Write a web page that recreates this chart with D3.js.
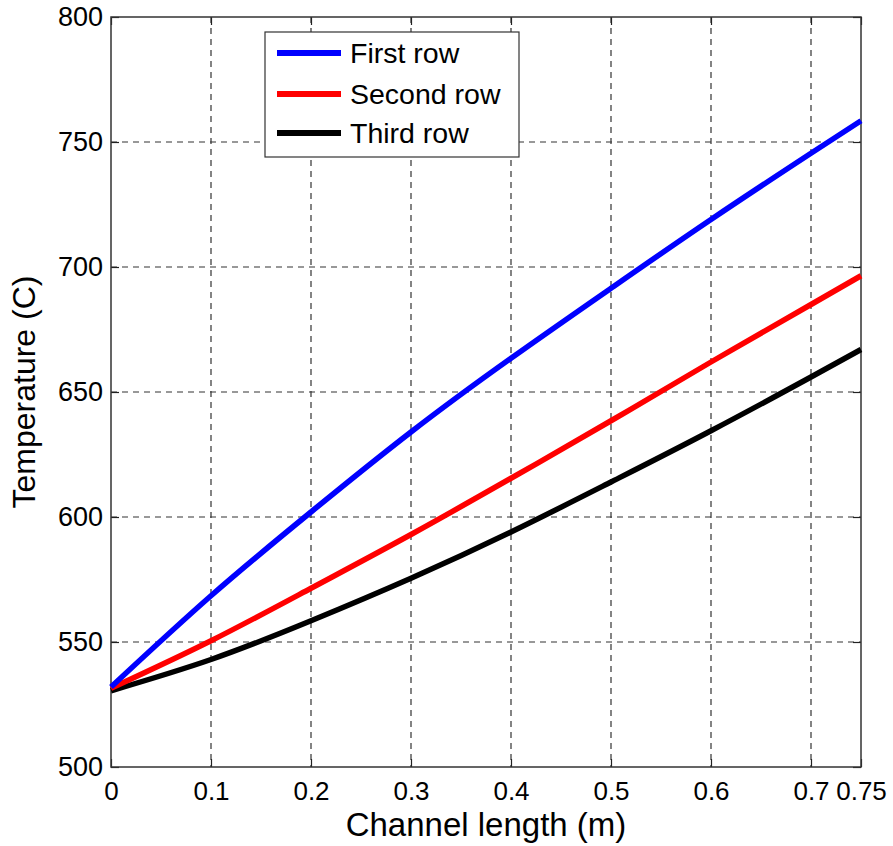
<!DOCTYPE html>
<html>
<head>
<meta charset="utf-8">
<script src="https://cdn.jsdelivr.net/npm/d3@7"></script>
<style>
  body { margin: 0; background: #fff; }
  svg { font-family: "Liberation Sans", Arial, sans-serif; }
</style>
</head>
<body>
<svg id="plotarea"></svg>
<script>
// Channel positions (m) where temperatures were read
var lengths = [0, 0.1, 0.2, 0.3, 0.4, 0.5, 0.6, 0.7, 0.75];

// Temperatures (C) for each row
var firstRow  = [532, 568.5, 602, 634, 663.5, 691.5, 719, 745.5, 758.5];
var secondRow = [531.5, 550.5, 571.5, 593, 615.5, 638.5, 662, 685, 696.5];
var thirdRow  = [530.5, 543, 558.5, 575.5, 594, 614, 634.5, 656, 667];

var seriesNames = ["First row", "Second row", "Third row"];
var seriesColors = ["#0000ff", "#ff0000", "#000000"];

var xTicks = [0, 0.1, 0.2, 0.3, 0.4, 0.5, 0.6, 0.7, 0.75];
var yTicks = [500, 550, 600, 650, 700, 750, 800];

var margin = {top: 17, right: 32, bottom: 79, left: 111};
var width = 893 - margin.left - margin.right;
var height = 846 - margin.top - margin.bottom;

var svg = d3.select("#plotarea")
    .attr("width", 893)
    .attr("height", 846);

var g = svg.append("g")
    .attr("transform", "translate(" + margin.left + "," + margin.top + ")");

var x = d3.scaleLinear().domain([0, 0.75]).range([0, width]);
var y = d3.scaleLinear().domain([500, 800]).range([height, 0]);

// dashed grid (inner lines only)
g.selectAll(".vgrid")
    .data(xTicks.filter(function (d) { return d > 0 && d < 0.75; }))
    .enter().append("line")
    .attr("x1", function (d) { return x(d); })
    .attr("x2", function (d) { return x(d); })
    .attr("y1", 0).attr("y2", height)
    .attr("stroke", "#333").attr("stroke-width", 1.2)
    .attr("stroke-dasharray", "6,5");

g.selectAll(".hgrid")
    .data(yTicks.filter(function (d) { return d > 500 && d < 800; }))
    .enter().append("line")
    .attr("x1", 0).attr("x2", width)
    .attr("y1", function (d) { return y(d); })
    .attr("y2", function (d) { return y(d); })
    .attr("stroke", "#333").attr("stroke-width", 1.2)
    .attr("stroke-dasharray", "6,5");

// axes with inward ticks, labels on left and bottom
var xAxis = g.append("g")
    .attr("transform", "translate(0," + height + ")")
    .call(d3.axisBottom(x).tickValues(xTicks).tickSizeInner(-8).tickSizeOuter(0)
        .tickFormat(function (d) { return d === 0 ? "0" : String(d); }));
xAxis.selectAll("text")
    .attr("y", 15).attr("dy", "0.71em")
    .attr("font-size", 26).attr("fill", "#000")
    .attr("font-family", "Liberation Sans, Arial, sans-serif");

var yAxis = g.append("g")
    .call(d3.axisLeft(y).tickValues(yTicks).tickSizeInner(-8).tickSizeOuter(0));
yAxis.selectAll("text")
    .attr("x", -8)
    .attr("font-size", 27).attr("fill", "#000")
    .attr("font-family", "Liberation Sans, Arial, sans-serif");

g.append("g")
    .call(d3.axisTop(x).tickValues(xTicks).tickSizeInner(-8).tickSizeOuter(0).tickFormat(""));
g.append("g")
    .attr("transform", "translate(" + width + ",0)")
    .call(d3.axisRight(y).tickValues(yTicks).tickSizeInner(-8).tickSizeOuter(0).tickFormat(""));

g.selectAll(".domain").attr("stroke", "none");
g.selectAll(".tick line").attr("stroke", "#222").attr("stroke-width", 1.2);

// plot box
g.append("rect")
    .attr("width", width).attr("height", height)
    .attr("fill", "none").attr("stroke", "#333").attr("stroke-width", 1.5);

// lines
var line = d3.line()
    .x(function (d) { return x(d[0]); })
    .y(function (d) { return y(d[1]); })
    .curve(d3.curveNatural);

var allSeries = [firstRow, secondRow, thirdRow];
// draw third row first so blue sits on top
[2, 1, 0].forEach(function (i) {
    g.append("path")
        .datum(lengths.map(function (l, j) { return [l, allSeries[i][j]]; }))
        .attr("d", line)
        .attr("fill", "none")
        .attr("stroke", seriesColors[i])
        .attr("stroke-width", 5.5);
});

// legend
var legend = svg.append("g");
legend.append("rect")
    .attr("x", 265).attr("y", 32)
    .attr("width", 254).attr("height", 125)
    .attr("fill", "#fff").attr("stroke", "#333").attr("stroke-width", 1.2);

var legendRows = [53, 94, 133];
seriesNames.forEach(function (name, i) {
    legend.append("line")
        .attr("x1", 277).attr("x2", 341)
        .attr("y1", legendRows[i]).attr("y2", legendRows[i])
        .attr("stroke", seriesColors[i]).attr("stroke-width", 6);
    legend.append("text")
        .attr("x", 350).attr("y", legendRows[i])
        .attr("dy", "0.36em")
        .attr("font-size", 28.5)
        .text(name);
});

// axis titles
svg.append("text")
    .attr("x", margin.left + width / 2)
    .attr("y", 836)
    .attr("text-anchor", "middle")
    .attr("font-size", 33)
    .text("Channel length (m)");

svg.append("text")
    .attr("transform", "translate(35," + (margin.top + height / 2) + ") rotate(-90)")
    .attr("text-anchor", "middle")
    .attr("font-size", 32)
    .text("Temperature (C)");
</script>
</body>
</html>
